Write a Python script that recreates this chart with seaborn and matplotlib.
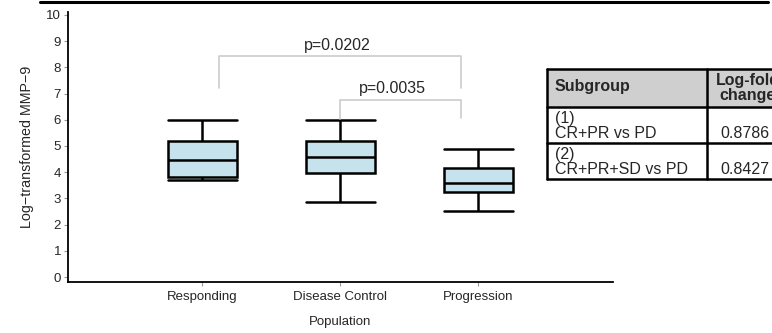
import numpy as np
import pandas as pd
import matplotlib
matplotlib.use("Agg")
import matplotlib.pyplot as plt
import seaborn as sns
from matplotlib.lines import Line2D
from matplotlib.patches import Rectangle

# box summary values
groups = ["Responding", "Disease Control", "Progression"]
whisker_low = [3.70, 2.86, 2.52]
q1 = [3.80, 3.95, 3.24]
medians = [4.45, 4.57, 3.60]
q3 = [5.20, 5.17, 4.14]
whisker_high = [6.00, 6.00, 4.87]

# significance brackets
p_labels = ["p=0.0202", "p=0.0035"]

# side table
table_header = ["Subgroup", "Log-fold\nchange"]
table_ids = ["(1)", "(2)"]
table_subgroups = ["CR+PR vs PD", "CR+PR+SD vs PD"]
table_values = ["0.8786", "0.8427"]

# five points per group -> quartiles land exactly on the summary values
rows = []
for i, g in enumerate(groups):
    for v in [whisker_low[i], q1[i], medians[i], q3[i], whisker_high[i]]:
        rows.append({"Population": g, "value": v})
df = pd.DataFrame(rows)

sns.set_style("ticks")
plt.rcParams["font.family"] = ["Liberation Sans", "DejaVu Sans"]

W, H = 772, 333
fig = plt.figure(figsize=(W / 100, H / 100), dpi=100)
ax = fig.add_axes([68 / W, (H - 282) / H, (613 - 68) / W, (282 - 12) / H])

sns.boxplot(data=df, x="Population", y="value", order=groups, ax=ax,
            width=0.5, whis=(0, 100), fliersize=0, color="#c6e2ec",
            saturation=1, linewidth=1.8, linecolor="black")

# full-width caps
for ln in ax.lines:
    x = np.asarray(ln.get_xdata(), dtype=float)
    y = np.asarray(ln.get_ydata(), dtype=float)
    if len(x) == 2 and y[0] == y[1]:
        c = x.mean()
        ln.set_xdata([c - 0.25, c + 0.25])

ax.set_xlim(-0.971, 2.978)
ax.set_ylim(-0.19, 10.11)
ax.set_yticks(range(0, 11))
ax.set_xlabel("")
ax.set_ylabel("")
ax.tick_params(axis="both", labelsize=9.5, color="#999999", length=3, width=0.8)
ax.tick_params(axis="y", pad=2)
for s in ["left", "bottom"]:
    ax.spines[s].set_linewidth(1.3)
    ax.spines[s].set_color("black")
sns.despine(ax=ax)

# brackets
bc = "#cccccc"
ax.plot([0.12, 0.12, 1.88, 1.88], [7.22, 8.42, 8.42, 7.22], color=bc, lw=1.2)
ax.text(0.98, 8.55, p_labels[0], ha="center", va="bottom", fontsize=11.5)
ax.plot([1.0, 1.0, 1.88, 1.88], [6.02, 6.77, 6.77, 6.06], color=bc, lw=1.2)
ax.text(1.38, 6.9, p_labels[1], ha="center", va="bottom", fontsize=11.5)

fig.text(27 / W, 1 - 147 / H, "Log\u2212transformed MMP\u22129", rotation=90,
         ha="center", va="center", fontsize=10.3)
fig.text(340 / W, 1 - 322 / H, "Population", ha="center", va="center", fontsize=9.5)

# top rule
fig.add_artist(Line2D([40 / W, 768 / W], [1 - 1.5 / H, 1 - 1.5 / H],
                      color="black", lw=2.2, transform=fig.transFigure))

# table drawn in pixel coordinates
tx0, ty0, tw, th = 547, 69, 300, 110
tax = fig.add_axes([tx0 / W, (H - ty0 - th) / H, tw / W, th / H])
tax.set_xlim(0, tw)
tax.set_ylim(th, 0)
tax.axis("off")
col_x = [0, 160, 232]
row_y = [0, 38, 74, 110]
tax.add_patch(Rectangle((0, 0), col_x[2], row_y[1], facecolor="#cfcfcf",
                        edgecolor="none", clip_on=False))
lw_t = 1.8
for yy in row_y:
    tax.plot([0, col_x[2]], [yy, yy], color="black", lw=lw_t, clip_on=False)
for xx in col_x:
    tax.plot([xx, xx], [0, th], color="black", lw=lw_t, clip_on=False)
tax.text(8, 18, table_header[0], ha="left", va="center", fontsize=11.5,
         fontweight="bold")
tax.text(201, 19, table_header[1], ha="center", va="center", fontsize=11.5,
         fontweight="bold", linespacing=0.95)
for i in range(2):
    top = row_y[i + 1]
    tax.text(8, top + 11, table_ids[i], ha="left", va="center", fontsize=11.5)
    tax.text(8, top + 27, table_subgroups[i], ha="left", va="center", fontsize=11.5)
    tax.text(col_x[1] + 13, top + 27, table_values[i], ha="left", va="center",
             fontsize=11.5)

fig.savefig("out.png", dpi=100)
